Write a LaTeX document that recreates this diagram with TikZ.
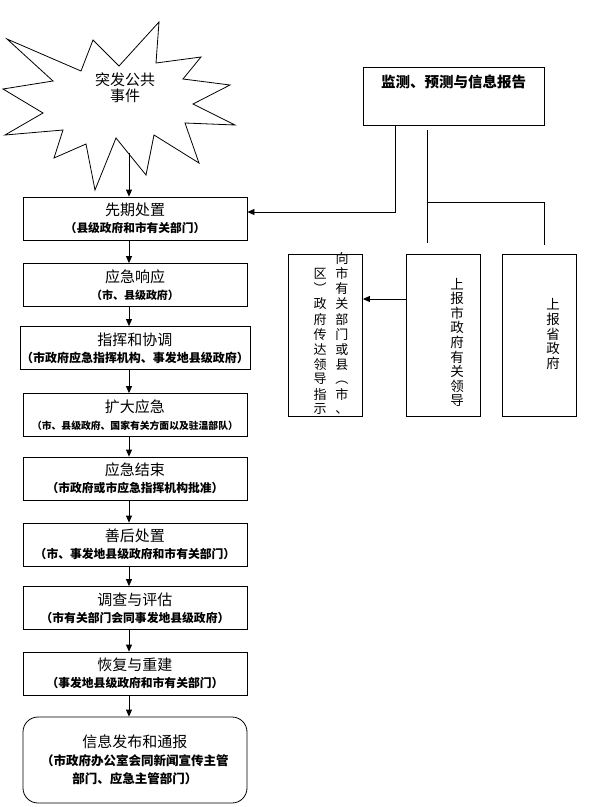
\documentclass[tikz,border=0pt]{standalone}
\usepackage{fontspec}
\newfontfamily\cjk{Noto Sans CJK SC}
\usetikzlibrary{arrows.meta}
\tikzset{
  arr/.style={-{Triangle[length=7pt,width=6pt]}},
  stepbox/.style={draw, minimum width=224pt, minimum height=43pt, align=center,
    inner sep=1pt, font=\cjk\fontsize{15}{16.8}\selectfont},
  endbox/.style={stepbox, rounded corners=15pt, minimum height=86pt,
    font=\cjk\fontsize{15}{18}\selectfont},
  vbox/.style={draw, minimum width=74pt, minimum height=162pt},
  vtext/.style={align=center, inner sep=0pt, font=\cjk\fontsize{13.5}{14.6}\selectfont},
}
\newcommand\subtxt[2][11.8]{{\bfseries\fontsize{#1}{16.8}\selectfont #2}}

\begin{document}
\begin{tikzpicture}[x=1pt, y=-1pt, line width=0.8pt]
  \useasboundingbox (0,0) rectangle (592,807);
  % burst
  \draw (7,39) -- (53,81) -- (3,89) -- (43,113) -- (5,135) -- (63,130) -- (54,158)
    -- (86,144) -- (95,190) -- (116,138) -- (146,175) -- (154,135) -- (199,163)
    -- (185,123) -- (235,125) -- (193,104) -- (230,85) -- (183,79) -- (201,57)
    -- (156,63) -- (159,22) -- (119,66) -- (93,40) -- (81,71) -- cycle;
  \node[align=center, font=\cjk\fontsize{15}{16}\selectfont] (burst) at (125,88) {突发公共\\事件};
  \coordinate (bb) at (129,153);

  % left column
  \node[stepbox] (p1) at (135,218.5) {先期处置\\\subtxt[11.7]{（县级政府和市有关部门）}};
  \node[stepbox] (p2) at (135,285) {应急响应\\\subtxt[11]{（市、县级政府）}};
  \node[stepbox] (p3) at (135,348) {指挥和协调\\\subtxt[12]{（市政府应急指挥机构、事发地县级政府）}};
  \node[stepbox] (p4) at (135,415) {扩大应急\\\subtxt[9.8]{（市、县级政府、国家有关方面以及驻温部队）}};
  \node[stepbox] (p5) at (135,478.5) {应急结束\\\subtxt{（市政府或市应急指挥机构批准）}};
  \node[stepbox] (p6) at (135,544.5) {善后处置\\\subtxt{（市、事发地县级政府和市有关部门）}};
  \node[stepbox] (p7) at (135,608) {调查与评估\\\subtxt{（市有关部门会同事发地县级政府）}};
  \node[stepbox] (p8) at (135,673.5) {恢复与重建\\\subtxt{（事发地县级政府和市有关部门）}};
  \node[endbox] (p9) at (135,760) {信息发布和通报\\\subtxt[12.5]{（市政府办公室会同新闻宣传主管}\\\subtxt[12.5]{部门、应急主管部门）}};

  \draw[arr] (bb) -- ([xshift=-6pt]p1.north);
  \draw[arr] ([xshift=-6pt]p1.south) -- ([xshift=-6pt]p2.north);
  \draw[arr] ([xshift=-6pt]p2.south) -- ([xshift=-6pt]p3.north);
  \draw[arr] ([xshift=-6pt]p3.south) -- ([xshift=-6pt]p4.north);
  \draw[arr] ([xshift=-6pt]p4.south) -- ([xshift=-6pt]p5.north);
  \draw[arr] ([xshift=-6pt]p5.south) -- ([xshift=-6pt]p6.north);
  \draw[arr] ([xshift=-6pt]p6.south) -- ([xshift=-6pt]p7.north);
  \draw[arr] ([xshift=-6pt]p7.south) -- ([xshift=-6pt]p8.north);
  \draw[arr] ([xshift=-6pt]p8.south) -- ([xshift=-6pt]p9.north);

  % right side
  \node[draw, minimum width=181pt, text height=17.5pt, text depth=34.5pt, inner ysep=3pt,
    font=\cjk\bfseries\fontsize{14.5}{16}\selectfont] (mon) at (453.5,96) {监测、预测与信息报告};
  \node[vbox] (bl) at (325.5,335) {};
  \node[vbox] (b2) at (443.5,335) {};
  \node[vbox] (b3) at (539,335) {};
  \node[inner sep=0pt, font=\cjk\fontsize{13}{13.8}\selectfont] (tl) at (331,335)
    {\begin{tabular}{@{}c@{\hspace{9pt}}c@{}}
       & 向\\ 区 & 市\\ ︶ & 有\\ 政 & 关\\ 府 & 部\\ 传 & 门\\
       达 & 或\\ 领 & 县\\ 导 & ︵\\ 指 & 市\\ 示 & 、
     \end{tabular}};
  \node[vtext] (t2) at (457,342.5) {上\\报\\市\\政\\府\\有\\关\\领\\导};
  \node[vtext] (t3) at (553,334) {上\\报\\省\\政\\府};

  \draw[arr] ([xshift=-58.5pt]mon.south) |- ([yshift=6.5pt]p1.east);
  \coordinate (m1) at (427,130);
  \coordinate (m2) at (427,243);
  \coordinate (m3) at (427,202);
  \coordinate (m4) at (544,245);
  \draw (m1) -- (m2);
  \draw (m3) -| (m4);
  \draw[arr] ([yshift=36pt]b2.west) -- ([yshift=36pt]bl.east);
\end{tikzpicture}
\end{document}
